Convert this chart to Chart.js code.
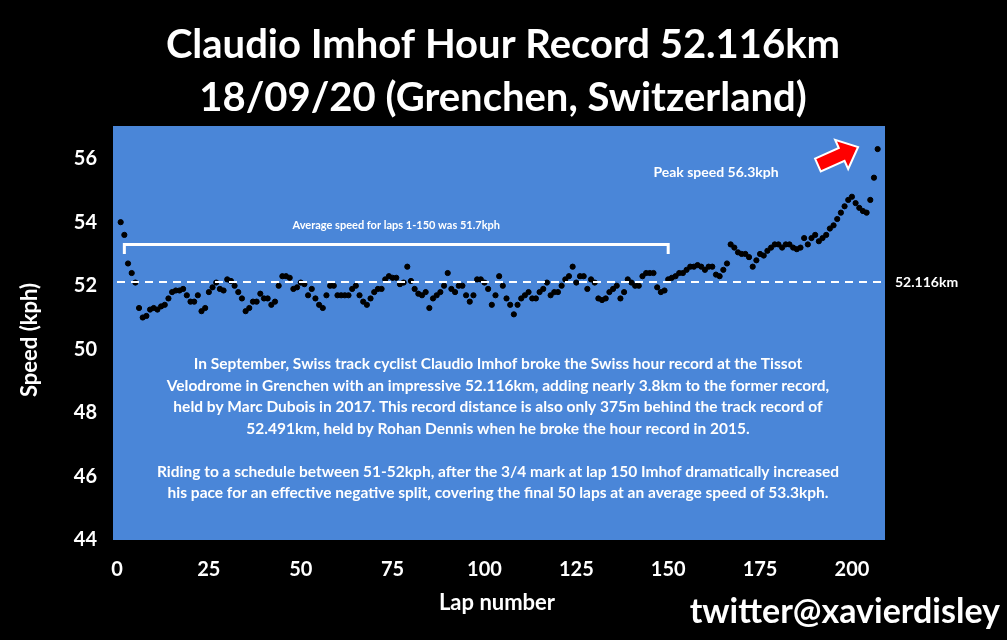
<!DOCTYPE html>
<html><head><meta charset="utf-8">
<script src="https://cdn.jsdelivr.net/npm/chart.js@4"></script>
<style>html,body{margin:0;background:#000;}#w{width:1007px;height:640px;}</style>
</head><body><div id="w"><canvas id="c" width="1007" height="640"></canvas></div>
<script>
const speeds = [
54.0,53.6,52.7,52.4,52.1,51.3,51.0,51.05,51.25,51.3,
51.25,51.35,51.4,51.6,51.8,51.85,51.85,51.9,51.7,51.5,
51.5,51.7,51.2,51.3,51.8,51.95,52.1,51.9,51.85,52.2,
52.15,52.0,51.8,51.6,51.2,51.3,51.5,51.5,51.75,51.6,
51.6,51.4,51.5,52.0,52.3,52.3,52.25,51.9,51.95,52.1,
52.05,51.7,51.9,51.6,51.4,51.3,51.7,52.0,52.0,51.7,
51.7,51.7,51.7,51.9,52.0,51.7,51.5,51.4,51.6,51.8,
51.9,51.9,52.2,52.3,52.25,52.25,52.05,52.1,52.6,52.15,
51.9,51.75,51.7,51.8,51.3,51.6,51.7,51.8,52.0,52.4,
51.9,51.8,52.0,52.0,51.7,51.5,51.7,52.2,52.2,52.1,
51.9,51.4,51.7,52.3,52.0,51.6,51.4,51.1,51.4,51.6,
51.7,51.8,51.6,51.6,51.8,51.9,52.1,51.7,51.8,51.8,
52.0,52.2,52.3,52.6,52.1,52.3,52.3,51.9,52.2,52.1,
51.6,51.55,51.6,51.8,51.9,52.0,51.6,51.8,52.2,52.1,
52.0,52.0,52.3,52.4,52.4,52.4,51.95,51.8,51.85,52.2,
52.25,52.3,52.4,52.4,52.5,52.6,52.6,52.65,52.6,52.5,
52.6,52.6,52.35,52.3,52.5,52.7,53.3,53.2,53.05,53.0,
53.0,52.9,52.6,52.8,53.0,52.95,53.1,53.2,53.3,53.3,
53.2,53.3,53.3,53.2,53.15,53.2,53.5,53.3,53.5,53.6,
53.4,53.5,53.6,53.8,53.9,54.1,54.3,54.5,54.7,54.8,
54.6,54.45,54.35,54.3,54.7,55.4,56.3
];
const laps = speeds.map((v,i)=>i+1);
const yTicks = [44,46,48,50,52,54,56];
const xTicks = [0,25,50,75,100,125,150,175,200];
const recordKm = 52.116;
const avgLaps = [2,150];
const titleLines = ["Claudio Imhof Hour Record 52.116km","18/09/20 (Grenchen, Switzerland)"];
const bodyText = [
"In September, Swiss track cyclist Claudio Imhof broke the Swiss hour record at the Tissot",
"Velodrome in Grenchen with an impressive 52.116km, adding nearly 3.8km to the former record,",
"held by Marc Dubois in 2017. This record distance is also only 375m behind the track record of",
"52.491km, held by Rohan Dennis when he broke the hour record in 2015.",
"",
"Riding to a schedule between 51-52kph, after the 3/4 mark at lap 150 Imhof dramatically increased",
"his pace for an effective negative split, covering the final 50 laps at an average speed of 53.3kph."
];
const F = "Lato, 'Open Sans', sans-serif";
const deco = {
 id:'deco',
 beforeDraw(ch){
  const c=ch.ctx,a=ch.chartArea;
  c.save();c.fillStyle='#000';c.fillRect(0,0,ch.width,ch.height);
  c.fillStyle='#4a86d8';c.fillRect(a.left-4,a.top-4,a.right-a.left+4,a.bottom-a.top+4);
  c.restore();
 },
 afterDatasetsDraw(ch){
  const c=ch.ctx,a=ch.chartArea,x=ch.scales.x,y=ch.scales.y;
  c.save();
  c.fillStyle='#fff';c.textAlign='center';c.textBaseline='middle';
  c.font="bold 40px "+F;
  c.fillText(titleLines[0],503,45);c.fillText(titleLines[1],503,98);
  const yr=y.getPixelForValue(recordKm);
  c.strokeStyle='#fff';c.lineWidth=2;c.setLineDash([8,6]);
  c.beginPath();c.moveTo(a.left,yr);c.lineTo(a.right,yr);c.stroke();c.setLineDash([]);
  c.font="bold 14px "+F;c.textAlign='left';c.fillText("52.116km",895,yr);
  const x1=x.getPixelForValue(avgLaps[0]),x2=x.getPixelForValue(avgLaps[1]);
  const yb=y.getPixelForValue(53.3),yb2=y.getPixelForValue(53.0);
  c.lineWidth=3;c.beginPath();c.moveTo(x1,yb2);c.lineTo(x1,yb);c.lineTo(x2,yb);c.lineTo(x2,yb2);c.stroke();
  c.textAlign='center';c.font="bold 11px "+F;
  c.fillText("Average speed for laps 1-150 was 51.7kph",(x1+x2)/2,y.getPixelForValue(53.9));
  c.font="bold 14px "+F;
  c.fillText("Peak speed 56.3kph",716,172);
  c.save();c.translate(838,156);c.rotate(-0.42);
  c.fillStyle='#ff0000';c.strokeStyle='#fff';c.lineWidth=2;
  c.beginPath();c.moveTo(-22,-7);c.lineTo(4,-7);c.lineTo(4,-16);c.lineTo(22,0);c.lineTo(4,16);c.lineTo(4,7);c.lineTo(-22,7);c.closePath();
  c.fill();c.stroke();c.restore();
  c.font="bold 15.5px "+F;c.fillStyle='#fff';
  bodyText.forEach((t,i)=>{c.fillText(t,498,364+i*21.5);});
  c.font="bold 22px "+F;
  c.fillText("Lap number",497,603);
  c.save();c.translate(30,340);c.rotate(-Math.PI/2);c.fillText("Speed (kph)",0,0);c.restore();
  c.font="bold 34px "+F;c.textAlign='right';
  c.fillText("twitter@xavierdisley",1000,612);
  c.restore();
 }
};
new Chart(document.getElementById('c'),{
 type:'scatter',
 data:{datasets:[{data:laps.map((l,i)=>({x:l,y:speeds[i]})),backgroundColor:'#000',borderColor:'#000',pointRadius:2.6}]},
 options:{responsive:false,animation:false,devicePixelRatio:1,
  layout:{padding:{left:0,right:122,top:130,bottom:0}},
  plugins:{legend:{display:false},tooltip:{enabled:false}},
  scales:{
   x:{type:'linear',min:0,max:209,afterBuildTicks(s){s.ticks=xTicks.map(v=>({value:v}));},
      afterFit(s){s.height=100;},grid:{display:false},border:{display:false},
      ticks:{color:'#fff',font:{family:F,size:20,weight:'bold'},padding:10}},
   y:{min:44,max:56.9,afterBuildTicks(s){s.ticks=yTicks.map(v=>({value:v}));},
      afterFit(s){s.width=117;},grid:{display:false},border:{display:false},
      ticks:{color:'#fff',font:{family:F,size:20,weight:'bold'},padding:12}}
  }},
 plugins:[deco]
});
</script></body></html>
